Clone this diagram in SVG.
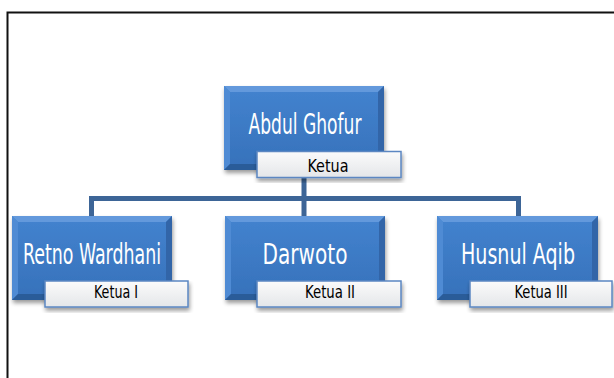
<svg xmlns="http://www.w3.org/2000/svg" width="614" height="378" viewBox="0 0 614 378">
<defs>
<linearGradient id="face" x1="0" y1="0" x2="0" y2="1">
<stop offset="0" stop-color="#4383cf"/>
<stop offset="1" stop-color="#3671ba"/>
</linearGradient>
<linearGradient id="lab" x1="0" y1="0" x2="0" y2="1">
<stop offset="0" stop-color="#fbfbfb"/>
<stop offset="1" stop-color="#e4e6e9"/>
</linearGradient>
<filter id="sh" x="-10%" y="-10%" width="125%" height="130%">
<feGaussianBlur in="SourceAlpha" stdDeviation="2"/>
<feOffset dx="1" dy="3" result="b"/>
<feComponentTransfer><feFuncA type="linear" slope="0.4"/></feComponentTransfer>
<feMerge><feMergeNode/><feMergeNode in="SourceGraphic"/></feMerge>
</filter>
</defs>
<style>
.face{fill:url(#face)}
.bt{fill:#6399dc}
.bl{fill:#4f8bd4}
.br{fill:#3165a8}
.bb{fill:#2c5c99}
.lab{fill:url(#lab);stroke:#5b87c2;stroke-width:1.5}
.name{font-family:"Liberation Sans Narrow","DejaVu Sans Condensed","Liberation Sans",sans-serif;fill:#ffffff;font-size:28px}
.role{font-family:"Liberation Sans Narrow","DejaVu Sans Condensed","Liberation Sans",sans-serif;fill:#000000;font-size:18.5px}
.conn{fill:none;stroke:#3d6597;stroke-width:5}
</style>
<rect x="0" y="0" width="614" height="378" fill="#ffffff"/>
<path d="M7.5 378 V12.5 H614" fill="none" stroke="#111" stroke-width="2"/>
<g id="connectors">
<path class="conn" d="M304 170 V198.5 M91.5 216 V198.5 H518.5 V216 M304 198.5 V216"/>
</g>
<g id="node-abdul">
<g filter="url(#sh)">
<rect class="face" x="224" y="86" width="160" height="84"/>
<polygon class="bt" points="224,86 384,86 378,92 230,92"/>
<polygon class="bl" points="224,86 230,92 230,164 224,170"/>
<polygon class="br" points="384,86 384,170 378,164 378,92"/>
<polygon class="bb" points="224,170 230,164 378,164 384,170"/>
</g>
<text class="name" x="305" y="134" text-anchor="middle" textLength="113" lengthAdjust="spacingAndGlyphs">Abdul Ghofur</text>
<rect class="lab" x="257" y="151.5" width="144" height="26" filter="url(#sh)"/>
<text class="role" x="328" y="172" text-anchor="middle" textLength="41" lengthAdjust="spacingAndGlyphs">Ketua</text>
</g>
<g id="node-retno">
<g filter="url(#sh)">
<rect class="face" x="12" y="216" width="160" height="84"/>
<polygon class="bt" points="12,216 172,216 166,222 18,222"/>
<polygon class="bl" points="12,216 18,222 18,294 12,300"/>
<polygon class="br" points="172,216 172,300 166,294 166,222"/>
<polygon class="bb" points="12,300 18,294 166,294 172,300"/>
</g>
<text class="name" x="92" y="264" text-anchor="middle" textLength="138" lengthAdjust="spacingAndGlyphs">Retno Wardhani</text>
<rect class="lab" x="45" y="281" width="143" height="26" filter="url(#sh)"/>
<text class="role" x="116" y="298" text-anchor="middle" textLength="44" lengthAdjust="spacingAndGlyphs">Ketua I</text>
</g>
<g id="node-darwoto">
<g filter="url(#sh)">
<rect class="face" x="225" y="216" width="160" height="84"/>
<polygon class="bt" points="225,216 385,216 379,222 231,222"/>
<polygon class="bl" points="225,216 231,222 231,294 225,300"/>
<polygon class="br" points="385,216 385,300 379,294 379,222"/>
<polygon class="bb" points="225,300 231,294 379,294 385,300"/>
</g>
<text class="name" x="305" y="264" text-anchor="middle" textLength="85" lengthAdjust="spacingAndGlyphs">Darwoto</text>
<rect class="lab" x="257" y="281" width="144" height="26" filter="url(#sh)"/>
<text class="role" x="330" y="298" text-anchor="middle" textLength="50" lengthAdjust="spacingAndGlyphs">Ketua II</text>
</g>
<g id="node-husnul">
<g filter="url(#sh)">
<rect class="face" x="437" y="216" width="161" height="84"/>
<polygon class="bt" points="437,216 598,216 592,222 443,222"/>
<polygon class="bl" points="437,216 443,222 443,294 437,300"/>
<polygon class="br" points="598,216 598,300 592,294 592,222"/>
<polygon class="bb" points="437,300 443,294 592,294 598,300"/>
</g>
<text class="name" x="518" y="264" text-anchor="middle" textLength="114" lengthAdjust="spacingAndGlyphs">Husnul Aqib</text>
<rect class="lab" x="470" y="281" width="142" height="26" filter="url(#sh)"/>
<text class="role" x="541" y="298" text-anchor="middle" textLength="53" lengthAdjust="spacingAndGlyphs">Ketua III</text>
</g>
</svg>
